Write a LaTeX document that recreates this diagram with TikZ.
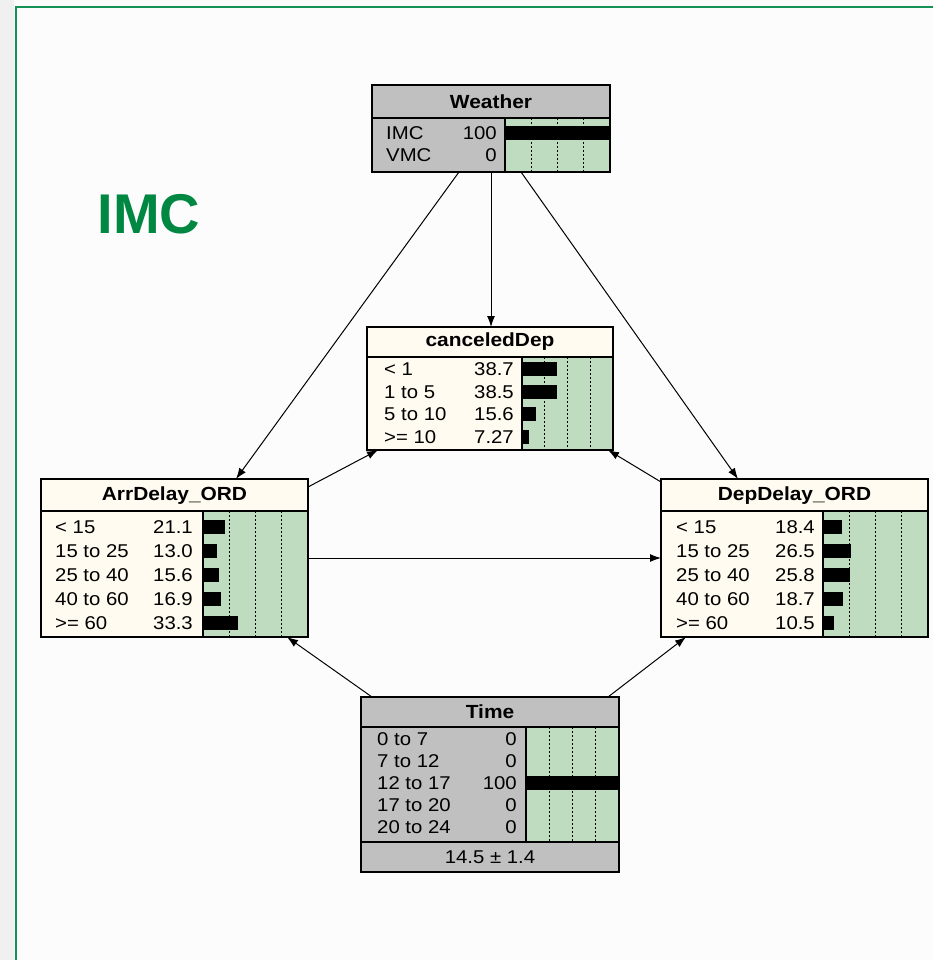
\documentclass[tikz,border=0pt]{standalone}
\usepackage{fontspec}
\setmainfont[FakeStretch=1.1]{Liberation Sans}
\newfontfamily\imcfont{Liberation Sans}
\usetikzlibrary{arrows.meta,calc}
\definecolor{bngray}{RGB}{192,192,192}
\definecolor{bncream}{RGB}{255,251,240}
\definecolor{bngreen}{RGB}{192,220,192}
\definecolor{frgreen}{RGB}{20,145,85}
\definecolor{imcgreen}{RGB}{0,135,65}
\tikzset{
  bnbox/.style={draw=black, line width=1.2pt, inner sep=0pt, outer sep=0pt},
  arr/.style={draw=black, line width=1pt, -{Latex[length=11pt,width=8pt]}},
  rowtxt/.style={inner sep=0pt, font=\fontsize{18.5}{20}\selectfont},
  ttl/.style={inner sep=0pt, font=\fontsize{19}{20}\selectfont\bfseries},
  dotl/.style={line width=1.3pt, dash pattern=on 2pt off 2pt},
  edge/.style={line width=1.2pt}
}
\newcommand\bndots[4]{%
  \fill[bngreen] (#1,#3) rectangle (#2,#4);
  \foreach \q in {0.25,0.5,0.75} \draw[dotl] ({floor(#1+\q*(#2-#1))+0.5},#3) -- ({floor(#1+\q*(#2-#1))+0.5},#4);
  \draw[edge] (#1,#3) -- (#1,#4);}
\newcommand\bnrow[8]{%
  \node[rowtxt,anchor=base west] at (#1,#5+6.5) {#6};
  \node[rowtxt,anchor=base east] at (#2,#5+6.5) {#7};
  \fill[black] (#3,#5-7) rectangle ({#3+#8*#4/100},#5+7);}
\begin{document}
\begin{tikzpicture}[x=1pt,y=-1pt]
\useasboundingbox (0,0) rectangle (933,960);
\fill[white!99!black] (0,0) rectangle (933,960);
\fill[black!6] (0,0) rectangle (14,960);
\draw[frgreen, line width=2.5pt] (16,960) -- (16,7) -- (933,7);

\node[font=\imcfont\fontsize{56}{56}\selectfont\bfseries, text=imcgreen, inner sep=0pt] (imclabel) at (149,214) {IMC};

% Weather
\node[bnbox, fill=bngray, minimum width=238pt, minimum height=87pt] (weather) at (491,128.5) {};
\bndots{505}{610}{118}{172}
\draw[edge] (372,118) -- (610,118);
\node[ttl] (weathert) at (491,102) {Weather};
\bnrow{386}{497}{505}{105}{133}{IMC}{100}{100}
\bnrow{386}{497}{505}{105}{155}{VMC}{0}{0}
\draw[edge] (weather.north west) rectangle (weather.south east);

% canceledDep
\node[bnbox, fill=bncream, minimum width=246pt, minimum height=123pt] (cdep) at (490,388.5) {};
\bndots{522}{613}{357}{450}
\draw[edge] (367,357) -- (613,357);
\node[ttl] (cdept) at (490,342) {canceledDep};
\bnrow{384}{514}{522}{91}{369}{< 1}{38.7}{38.7}
\bnrow{384}{514}{522}{91}{391.5}{1 to 5}{38.5}{38.5}
\bnrow{384}{514}{522}{91}{414}{5 to 10}{15.6}{15.6}
\bnrow{384}{514}{522}{91}{436.5}{>= 10}{7.27}{7.27}
\draw[edge] (cdep.north west) rectangle (cdep.south east);

% ArrDelay_ORD
\node[bnbox, fill=bncream, minimum width=267pt, minimum height=158pt] (arrd) at (174.5,558) {};
\bndots{203}{308}{511}{637}
\draw[edge] (41,511) -- (308,511);
\node[ttl] (arrdt) at (174.5,496) {ArrDelay\_ORD};
\bnrow{55}{193}{203}{105}{526.5}{< 15}{21.1}{21.1}
\bnrow{55}{193}{203}{105}{550.7}{15 to 25}{13.0}{13.0}
\bnrow{55}{193}{203}{105}{574.9}{25 to 40}{15.6}{15.6}
\bnrow{55}{193}{203}{105}{599.1}{40 to 60}{16.9}{16.9}
\bnrow{55}{193}{203}{105}{623.3}{>= 60}{33.3}{33.3}
\draw[edge] (arrd.north west) rectangle (arrd.south east);

% DepDelay_ORD
\node[bnbox, fill=bncream, minimum width=267pt, minimum height=158pt] (depd) at (794.5,558) {};
\bndots{823}{928}{511}{637}
\draw[edge] (661,511) -- (928,511);
\node[ttl] (depdt) at (794.5,496) {DepDelay\_ORD};
\bnrow{676}{815}{823}{105}{526.5}{< 15}{18.4}{18.4}
\bnrow{676}{815}{823}{105}{550.7}{15 to 25}{26.5}{26.5}
\bnrow{676}{815}{823}{105}{574.9}{25 to 40}{25.8}{25.8}
\bnrow{676}{815}{823}{105}{599.1}{40 to 60}{18.7}{18.7}
\bnrow{676}{815}{823}{105}{623.3}{>= 60}{10.5}{10.5}
\draw[edge] (depd.north west) rectangle (depd.south east);

% Time
\node[bnbox, fill=bngray, minimum width=258pt, minimum height=175pt] (time) at (490,784.5) {};
\bndots{526}{619}{727}{842}
\draw[edge] (361,727) -- (619,727);
\draw[edge] (361,842) -- (619,842);
\node[ttl] (timet) at (490,712) {Time};
\bnrow{377}{517}{526}{93}{739}{0 to 7}{0}{0}
\bnrow{377}{517}{526}{93}{761}{7 to 12}{0}{0}
\bnrow{377}{517}{526}{93}{783}{12 to 17}{100}{100}
\bnrow{377}{517}{526}{93}{805}{17 to 20}{0}{0}
\bnrow{377}{517}{526}{93}{827}{20 to 24}{0}{0}
\node[rowtxt] (timestat) at (490,857) {14.5 ± 1.4};
\draw[edge] (time.north west) rectangle (time.south east);

% connectors
\draw[arr] (weather.south) -- (weather.south |- cdep.north);
\draw[arr] ([xshift=-32pt]weather.south) -- ([xshift=61.5pt]arrd.north);
\draw[arr] ([xshift=30pt]weather.south) -- ([xshift=-56.5pt]depd.north);
\draw[arr] ([yshift=-8pt]arrd.north east) -- ([xshift=11pt]cdep.south west);
\draw[arr] ([yshift=-3pt]depd.north west) -- ([xshift=-5pt]cdep.south east);
\draw[arr] (arrd.east) -- (depd.west);
\draw[arr] ([xshift=11pt]time.north west) -- ([xshift=-21pt]arrd.south east);
\draw[arr] ([xshift=-11pt]time.north east) -- ([xshift=25pt]depd.south west);
\end{tikzpicture}
\end{document}
